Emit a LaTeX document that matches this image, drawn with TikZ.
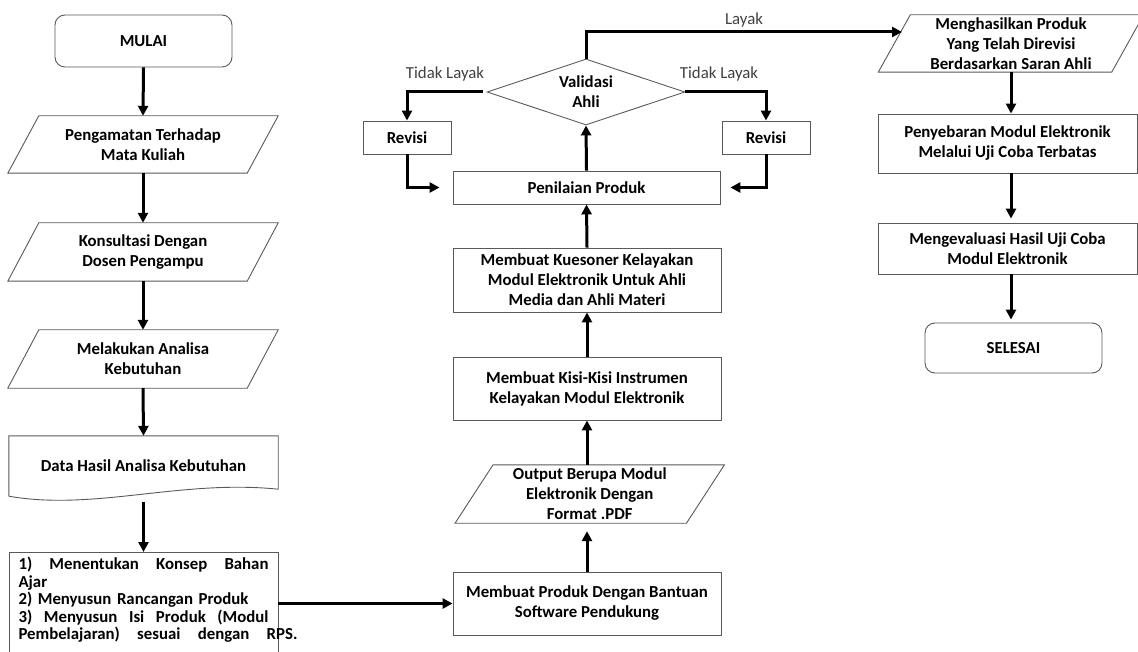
\documentclass[tikz,border=0pt]{standalone}
\usepackage{fontspec}
\setmainfont{Carlito}
\usetikzlibrary{shapes.geometric,arrows.meta}
\definecolor{garis}{HTML}{595959}
\definecolor{teksket}{HTML}{404040}
\begin{document}
\begin{tikzpicture}[x=1pt,y=-1pt]
            \tikzset{
                dasar/.style={font=\fontsize{16.8}{20}\selectfont\bfseries,align=center,inner sep=0pt},
                proses/.style={dasar,draw=garis,line width=0.9pt},
                terminal/.style={proses,rounded corners=10pt},
                io/.style={dasar},
                dokumen/.style={dasar},
                keputusan/.style={proses,diamond,aspect=3},
                panah/.style={line width=3pt,-{Triangle[width=10pt,length=10pt]}},
                ket/.style={font=\fontsize{16.8}{20}\selectfont,text=teksket,inner sep=0pt},}
            \def\baris#1#2{\leavevmode\hbox to #1pt{#2}}
            \useasboundingbox (0,0) rectangle (1138,652);
            % kolom kiri
            \node[terminal,minimum width=177pt,minimum height=52pt] (mulai) at (143.5,41) {MULAI};
            \node[io,minimum width=239pt,minimum height=57pt] (amati) at (143,144.5) {Pengamatan Terhadap\\Mata Kuliah};
            \node[io,minimum width=239pt,minimum height=58pt] (konsul) at (143,252) {Konsultasi Dengan\\Dosen Pengampu};
            \node[io,minimum width=239pt,minimum height=58pt] (analisa) at (143,359) {Melakukan Analisa\\Kebutuhan};
            \node[dokumen,minimum width=269pt,minimum height=60pt] (data) at (143.5,466) {Data Hasil Analisa Kebutuhan};
            \node[proses,anchor=north,minimum width=269pt,inner ysep=5pt,text width=250pt,align=left,text depth=95pt,
                font=\fontsize{16.8}{17.4}\selectfont\bfseries] (rancang) at (143.5,552)
                {\baris{250}{1)\hfill Menentukan\hfill Konsep\hfill Bahan}\\
                 \baris{250}{Ajar\hfill}\\
                 \baris{250}{2) Menyusun Rancangan Produk\hfill}\\
                 \baris{250}{3)\hfill Menyusun\hfill Isi\hfill Produk\hfill (Modul}\\
                 \baris{279}{Pembelajaran)\hfill sesuai\hfill dengan\hfill RPS.}};
            % kolom tengah
            \node[proses,minimum width=268pt,minimum height=63pt] (produk) at (587,603.5) {Membuat Produk Dengan Bantuan\\Software Pendukung};
            \node[io,minimum width=231pt,minimum height=58pt] (output) at (589.75,494) {Output Berupa Modul\\Elektronik Dengan\\Format .PDF};
            \node[proses,minimum width=268pt,minimum height=63pt] (kisi) at (587,388.5) {Membuat Kisi-Kisi Instrumen\\Kelayakan Modul Elektronik};
            \node[proses,minimum width=268pt,minimum height=64pt] (kuesoner) at (587,280) {Membuat Kuesoner Kelayakan\\Modul Elektronik Untuk Ahli\\Media dan Ahli Materi};
            \node[proses,minimum width=267pt,minimum height=33pt] (nilai) at (586.5,187.5) {Penilaian Produk};
            \node[keputusan,minimum width=198pt,minimum height=66pt] (validasi) at (586,92) {Validasi\\Ahli};
            \node[proses,minimum width=88pt,minimum height=33pt] (revisikiri) at (407,137.5) {Revisi};
            \node[proses,minimum width=88pt,minimum height=33pt] (revisikanan) at (766,137.5) {Revisi};
            \node[ket] (tlkiri) at (445,74) {Tidak Layak};
            \node[ket] (tlkanan) at (719,74) {Tidak Layak};
            \node[ket] (layak) at (744,20) {Layak};
            % kolom kanan
            \node[io,minimum width=233pt,minimum height=57pt] (hasil) at (1011,43.5) {Menghasilkan Produk\\Yang Telah Direvisi\\Berdasarkan Saran Ahli};
            \node[proses,minimum width=259pt,minimum height=59pt] (sebar) at (1007.5,143.5) {Penyebaran Modul Elektronik\\Melalui Uji Coba Terbatas};
            \node[proses,minimum width=259pt,minimum height=51pt] (evaluasi) at (1007.5,248.5) {Mengevaluasi Hasil Uji Coba\\Modul Elektronik};
            \node[terminal,minimum width=177pt,minimum height=50pt] (selesai) at (1013.5,348) {SELESAI};
            % bentuk jajaran genjang dan dokumen
            \foreach \n/\s in {amati/15.5,konsul/15.5,analisa/15.5,output/19,hasil/16}
                \draw[garis,line width=0.9pt] ([xshift=\s pt]\n.north west) -- ([xshift=\s pt]\n.north east)
                    -- ([xshift=-\s pt]\n.south east) -- ([xshift=-\s pt]\n.south west) -- cycle;
            \draw[garis,line width=0.9pt] (data.south west) -- (data.north west) -- (data.north east) -- ([yshift=7pt]data.south east)
                .. controls ([xshift=-98pt,yshift=17pt]data.south east) and ([xshift=86pt,yshift=-15pt]data.south west) .. (data.south west);
            % alur
            \draw[panah] (mulai.south) -- (amati.north);
            \draw[panah] (amati.south) -- (konsul.north);
            \draw[panah] (konsul.south) -- (analisa.north);
            \draw[panah] (analisa.south) -- (data.north);
            \draw[panah] ([yshift=-6pt]data.south) -- (rancang.north);
            \draw[panah] (rancang.east |- produk.west) -- (produk.west);
            \draw[panah,shorten >=8pt] (produk.north) -- (produk.north |- output.south);
            \draw[panah] (kisi.south |- output.north) -- (kisi.south);
            \draw[panah] (kisi.north) -- (kuesoner.south);
            \draw[panah] (kuesoner.north) -- (nilai.south);
            \draw[panah] (nilai.north) -- (validasi.south);
            \draw[panah] ([xshift=-4pt]validasi.west) -| (revisikiri.north);
            \draw[panah] (validasi.east) -| (revisikanan.north);
            \draw[panah,shorten >=13pt] (revisikiri.south) |- (nilai.west);
            \draw[panah,shorten >=10pt] (revisikanan.south) |- (nilai.east);
            \coordinate (layakujung) at (902,32);
            \draw[panah] (validasi.north) |- (layakujung);
            \draw[panah] (hasil.south) -- (hasil.south |- sebar.north);
            \draw[panah,shorten >=4pt] (hasil.south |- sebar.south) -- (hasil.south |- evaluasi.north);
            \draw[panah,shorten >=3pt] (hasil.south |- evaluasi.south) -- (hasil.south |- selesai.north);
        \end{tikzpicture}
\end{document}
